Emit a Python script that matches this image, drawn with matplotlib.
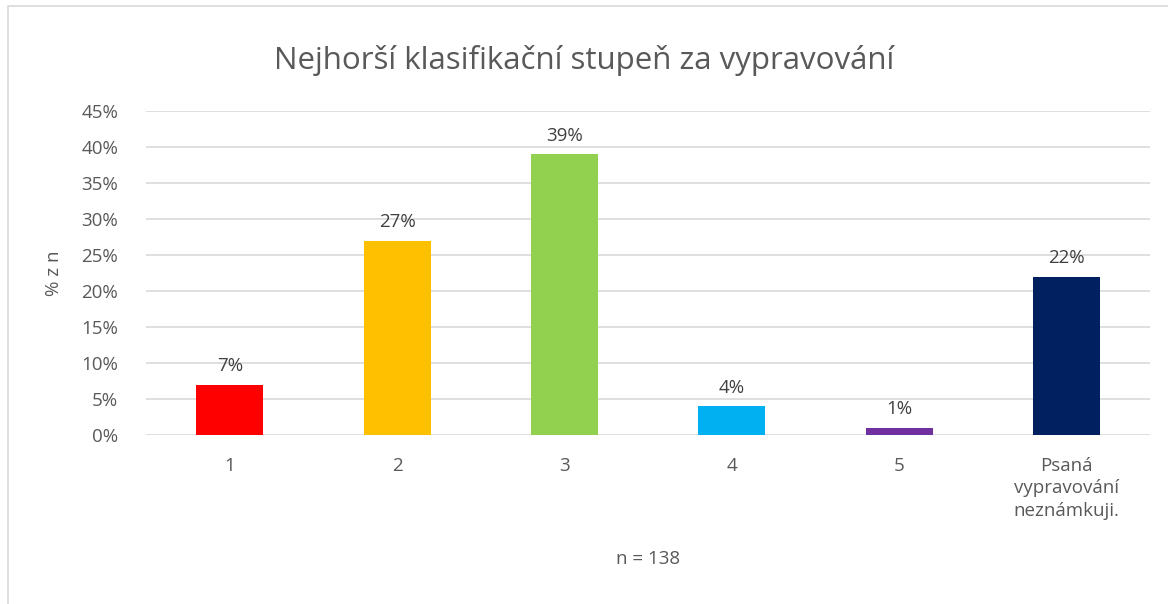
from matplotlib import pyplot as plt
import numpy as np

plt.rcParams["font.family"] = ["Open Sans", "DejaVu Sans"]

categories = ["1", "2", "3", "4", "5", "Psaná\nvypravování\nneznámkuji."]
values = [7, 27, 39, 4, 1, 22]
bar_colors = ["#FF0000", "#FFC000", "#92D050", "#00B0F0", "#7030A0", "#002060"]
y_ticks = np.arange(0, 46, 5)

fig = plt.figure(figsize=(11.68, 6.04), dpi=100)
ax = fig.add_axes([0.125, 0.2798, 0.86, 0.5364])

x = np.arange(len(categories))
bars = ax.bar(x, values, width=0.4, color=bar_colors, zorder=3)

for b, v in zip(bars, values):
    ax.text(b.get_x() + b.get_width() / 2, v + 1.3, "{}%".format(v),
            ha="center", va="bottom", fontsize=13.5, color="#404040")

ax.set_xlim(-0.5, len(categories) - 0.5)
ax.set_ylim(0, 45)
ax.set_yticks(y_ticks)
ax.set_yticklabels(["{}%".format(t) for t in y_ticks])
ax.set_xticks(x)
ax.set_xticklabels(categories, linespacing=1.3)
ax.tick_params(axis="both", length=0, labelsize=13.5, labelcolor="#595959")
ax.tick_params(axis="x", pad=16)
ax.tick_params(axis="y", pad=20)
ax.grid(axis="y", color="#D9D9D9", linewidth=1.2, zorder=0)
for s in ax.spines.values():
    s.set_visible(False)

ax.set_ylabel("% z n", fontsize=13.5, color="#595959", labelpad=13)
ax.set_xlabel("n = 138", fontsize=13.5, color="#595959", labelpad=22)
fig.suptitle("Nejhorší klasifikační stupeň za vypravování", fontsize=22.5,
             color="#595959", y=0.925)

# light chart border like the Excel frame
fig.add_artist(plt.Rectangle((0.007, -0.01), 1.0, 1.0, transform=fig.transFigure,
                             fill=False, edgecolor="#D9D9D9", linewidth=1.2))

plt.savefig("out.png", dpi=100)
plt.close()
